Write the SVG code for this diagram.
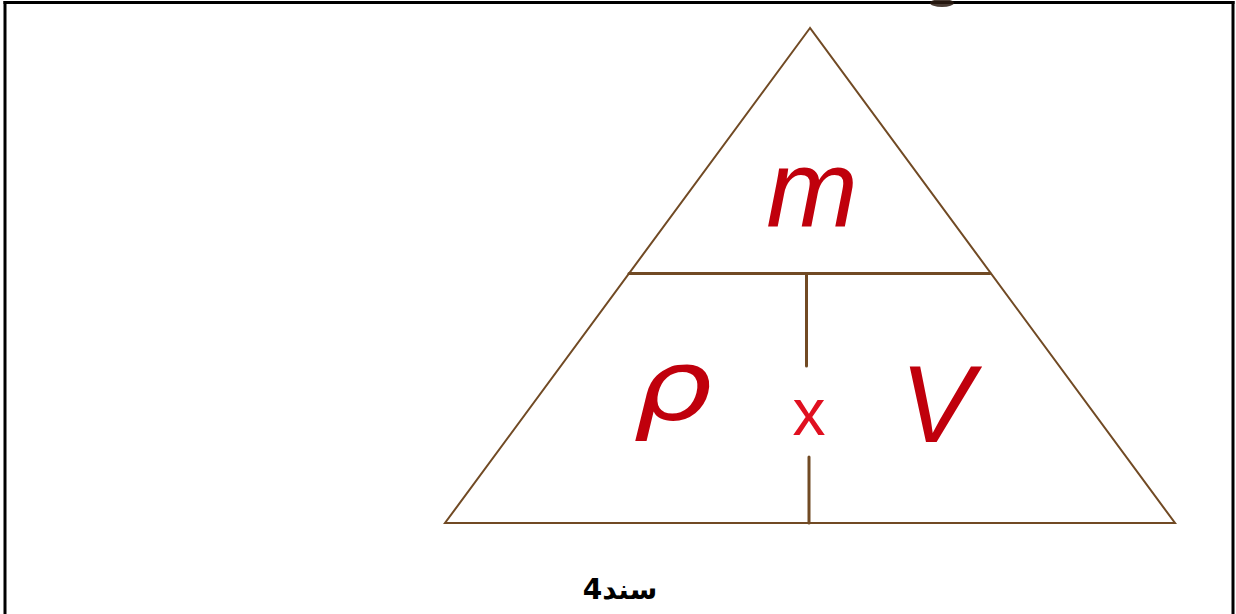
<svg xmlns="http://www.w3.org/2000/svg" width="1236" height="614" viewBox="0 0 1236 614">
  <style>
    .edge { stroke: #714a24; fill: none; stroke-linecap: round; }
    .sym { fill: #c0000c; font-family: "Liberation Sans", Arial, sans-serif; font-style: italic; text-anchor: middle; }
    .greek { fill: #c0000c; font-family: "DejaVu Sans", "Liberation Sans", sans-serif; font-style: italic; text-anchor: middle; }
    .op { fill: #e01020; font-family: "Liberation Sans", Arial, sans-serif; text-anchor: middle; }
    .cap { fill: #000; font-family: "DejaVu Sans", "Noto Sans", sans-serif; font-weight: bold; text-anchor: middle; }
  </style>
  <rect width="1236" height="614" fill="#ffffff"/>
  <g id="frame">
    <line x1="3.5" y1="2.5" x2="1234.5" y2="2.5" stroke="#000" stroke-width="3"/>
    <line x1="5" y1="1" x2="5" y2="614" stroke="#000" stroke-width="3"/>
    <line x1="1233" y1="1" x2="1233" y2="614" stroke="#000" stroke-width="3"/>
    <ellipse cx="942" cy="3" rx="12" ry="4" fill="#2a1a10" opacity="0.85"/>
  </g>
  <g id="connectors">
    <polygon class="edge" points="810,28 445,523 1175,523" stroke-width="2"/>
    <line class="edge" x1="629" y1="273.5" x2="990" y2="273.5" stroke-width="3"/>
    <line class="edge" x1="806.5" y1="274" x2="806.5" y2="366" stroke-width="3"/>
    <line class="edge" x1="809" y1="457" x2="809" y2="523" stroke-width="3"/>
  </g>
  <g id="node-m">
    <text class="sym" x="812" y="227" font-size="110">m</text>
  </g>
  <g id="node-rho">
    <text class="greek" x="0" y="0" font-size="100" transform="translate(673,420) scale(1.25,1)">ρ</text>
  </g>
  <g id="node-times">
    <text class="op" x="809" y="435" font-size="66">x</text>
  </g>
  <g id="node-V">
    <text class="sym" x="937" y="442" font-size="110">V</text>
  </g>
  <g id="caption">
    <text class="cap" x="620" y="599" font-size="28">سند4</text>
  </g>
</svg>
